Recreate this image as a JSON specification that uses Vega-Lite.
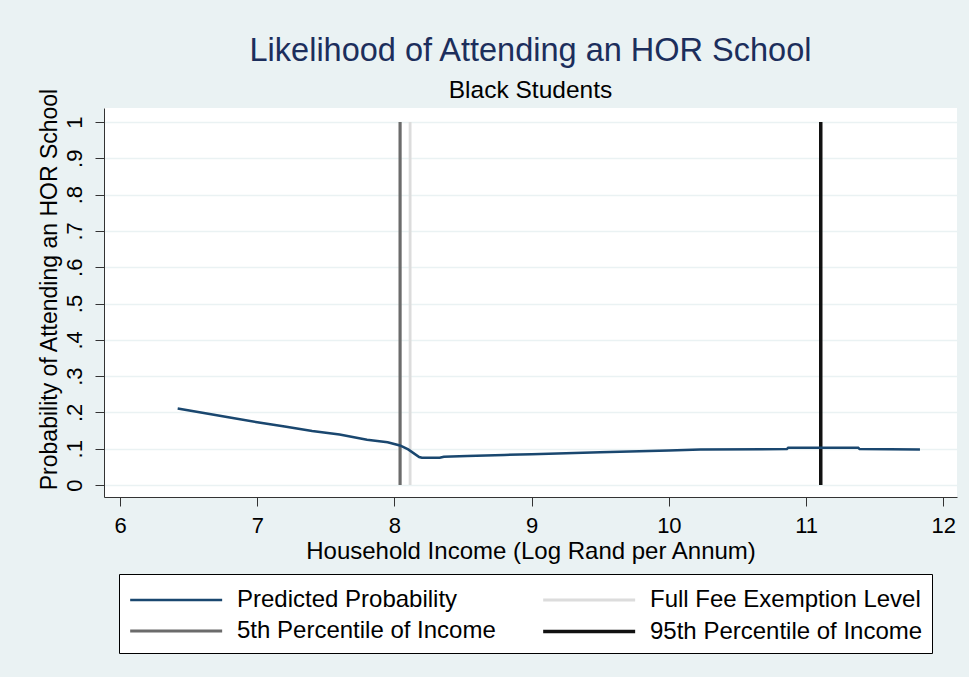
{
  "$schema": "https://vega.github.io/schema/vega-lite/v6.json",
  "width": 853,
  "height": 389,
  "autosize": {"type": "none"},
  "padding": {"left": 104, "top": 108, "right": 12, "bottom": 180},
  "background": "#eaf2f3",
  "title": {
    "text": "Likelihood of Attending an HOR School",
    "subtitle": "Black Students",
    "anchor": "middle",
    "frame": "group",
    "font": "Liberation Sans",
    "fontSize": 32.5,
    "fontWeight": "normal",
    "color": "#1c2e5c",
    "subtitleFont": "Liberation Sans",
    "subtitleFontSize": 24.5,
    "subtitleColor": "#000000",
    "subtitlePadding": 12,
    "offset": -15
  },
  "datasets": {
    "pred": [
      {"income": 6.42, "prob": 0.211, "series": "Predicted Probability"},
      {"income": 6.6, "prob": 0.199, "series": "Predicted Probability"},
      {"income": 6.8, "prob": 0.186, "series": "Predicted Probability"},
      {"income": 7.0, "prob": 0.173, "series": "Predicted Probability"},
      {"income": 7.2, "prob": 0.161, "series": "Predicted Probability"},
      {"income": 7.4, "prob": 0.149, "series": "Predicted Probability"},
      {"income": 7.6, "prob": 0.139, "series": "Predicted Probability"},
      {"income": 7.8, "prob": 0.125, "series": "Predicted Probability"},
      {"income": 7.95, "prob": 0.118, "series": "Predicted Probability"},
      {"income": 8.04, "prob": 0.109, "series": "Predicted Probability"},
      {"income": 8.1, "prob": 0.098, "series": "Predicted Probability"},
      {"income": 8.18, "prob": 0.077, "series": "Predicted Probability"},
      {"income": 8.2, "prob": 0.075, "series": "Predicted Probability"},
      {"income": 8.33, "prob": 0.075, "series": "Predicted Probability"},
      {"income": 8.36, "prob": 0.078, "series": "Predicted Probability"},
      {"income": 8.53, "prob": 0.080, "series": "Predicted Probability"},
      {"income": 8.8, "prob": 0.083, "series": "Predicted Probability"},
      {"income": 9.0, "prob": 0.085, "series": "Predicted Probability"},
      {"income": 9.5, "prob": 0.090, "series": "Predicted Probability"},
      {"income": 10.0, "prob": 0.095, "series": "Predicted Probability"},
      {"income": 10.23, "prob": 0.098, "series": "Predicted Probability"},
      {"income": 10.86, "prob": 0.099, "series": "Predicted Probability"},
      {"income": 10.87, "prob": 0.103, "series": "Predicted Probability"},
      {"income": 11.38, "prob": 0.103, "series": "Predicted Probability"},
      {"income": 11.39, "prob": 0.099, "series": "Predicted Probability"},
      {"income": 11.83, "prob": 0.098, "series": "Predicted Probability"}
    ],
    "refs": [
      {"income": 8.114, "series": "Full Fee Exemption Level"},
      {"income": 8.041, "series": "5th Percentile of Income"},
      {"income": 11.107, "series": "95th Percentile of Income"}
    ]
  },
  "encoding": {
    "x": {
      "field": "income",
      "type": "quantitative",
      "title": "Household Income (Log Rand per Annum)",
      "scale": {"domain": [5.883, 12.1], "nice": false, "zero": false},
      "axis": {"values": [6, 7, 8, 9, 10, 11, 12], "tickCount": 20, "grid": false, "format": "d"}
    },
    "color": {
      "field": "series",
      "type": "nominal",
      "scale": {
        "domain": ["Predicted Probability", "Full Fee Exemption Level", "5th Percentile of Income", "95th Percentile of Income"],
        "range": ["#1a476f", "#dcdcdc", "#6b6b6b", "#111111"]
      },
      "legend": {"title": null}
    },
    "strokeWidth": {
      "field": "series",
      "type": "nominal",
      "scale": {
        "domain": ["Predicted Probability", "Full Fee Exemption Level", "5th Percentile of Income", "95th Percentile of Income"],
        "range": [2.5, 3.5, 4, 4]
      },
      "legend": {"title": null}
    }
  },
  "layer": [
    {
      "data": {"name": "refs"},
      "mark": {"type": "rule"},
      "encoding": {
        "y": {"datum": 0, "type": "quantitative"},
        "y2": {"datum": 1}
      }
    },
    {
      "data": {"name": "pred"},
      "mark": {"type": "line", "interpolate": "linear"},
      "encoding": {
        "y": {
          "field": "prob",
          "type": "quantitative",
          "title": "Probability of Attending an HOR School",
          "scale": {"domain": [-0.033, 1.0386], "nice": false, "zero": false},
          "axis": {
            "values": [0, 0.1, 0.2, 0.3, 0.4, 0.5, 0.6, 0.7, 0.8, 0.9, 1],
            "tickCount": 30,
            "labelExpr": "datum.value == 0 ? '0' : datum.value == 1 ? '1' : replace(format(datum.value, '.1f'), '0.', '.')",
            "labelOverlap": false,
            "grid": true,
            "titleY": 181,
            "titleFontSize": 23
          }
        }
      }
    }
  ],
  "config": {
    "font": "Liberation Sans",
    "view": {"fill": "white", "stroke": null},
    "axis": {
      "domainColor": "#333333",
      "tickColor": "#333333",
      "tickSize": 9,
      "labelFont": "Liberation Sans",
      "labelFontSize": 22,
      "labelColor": "#000000",
      "titleFont": "Liberation Sans",
      "titleFontSize": 24,
      "titleFontWeight": "normal",
      "titleColor": "#000000",
      "gridColor": "#eaf2f3",
      "gridWidth": 1.5
    },
    "axisX": {"labelPadding": 9, "titlePadding": 3},
    "axisY": {"labelAngle": -90, "labelAlign": "center", "labelBaseline": "bottom", "labelPadding": 9, "titlePadding": 2},
    "legend": {
      "orient": "none",
      "legendX": 15,
      "legendY": 466,
      "columns": 2,
      "direction": "horizontal",
      "symbolType": "M-1,0H5",
      "symbolSize": 940,
      "labelOffset": 74,
      "labelFont": "Liberation Sans",
      "labelFontSize": 24,
      "labelColor": "#000000",
      "columnPadding": 40,
      "rowPadding": 2,
      "padding": 9,
      "strokeColor": "#000000",
      "fillColor": "#ffffff",
      "labelLimit": 400
    }
  }
}
